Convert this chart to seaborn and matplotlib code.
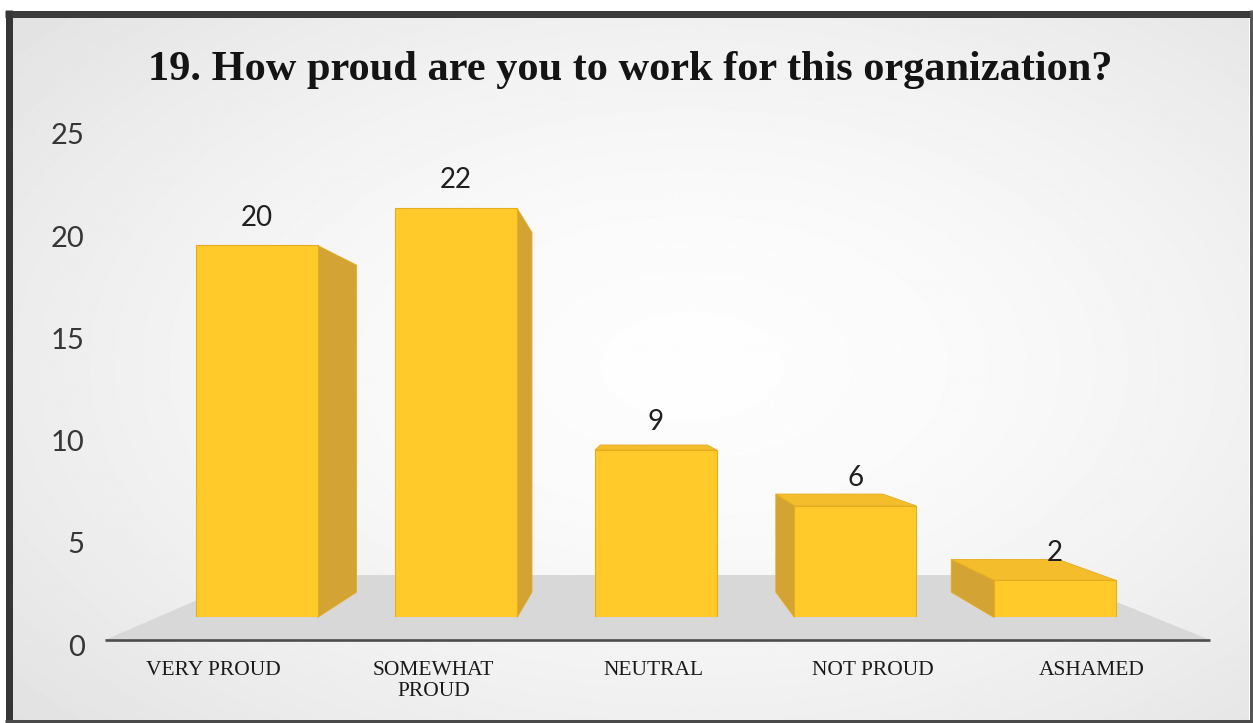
import numpy as np
import matplotlib
matplotlib.use("Agg")
import matplotlib.pyplot as plt
import seaborn as sns
from matplotlib.patches import Polygon

# ---- data -------------------------------------------------------------
categories = ["VERY PROUD", "SOMEWHAT\nPROUD", "NEUTRAL", "NOT PROUD", "ASHAMED"]
counts = [20, 22, 9, 6, 2]
value_ticks = [0, 5, 10, 15, 20, 25]
title = "19. How proud are you to work for this organization?"

# ---- canvas & perspective constants (pixel space, y pointing down) -----
W, H = 1253, 723
VANISH = np.array([640.0, 408.0])      # vanishing point of the 3-D view
FLOOR_L, FLOOR_R, FLOOR_Y = 105.0, 1210.0, 640.0
K_BAR = 0.903      # depth of the bar front faces
K_DEPTH = 0.879    # bar back face relative to its front face
K_FLOOR = 0.72     # back edge of the floor
UNIT = 20.6        # pixels per count on the front plane

FRONT = "#FFCA2A"
SIDE = "#D3A334"
TOP = "#F3BD2C"
EDGE = "#E6AC1F"

sns.set_theme(style="white")
plt.rcParams["font.family"] = ["Lato", "DejaVu Sans"]

fig = plt.figure(figsize=(W / 100, H / 100), dpi=100)
fig.patch.set_facecolor("white")


def fig_box(left, top, right, bottom):
    """Figure-fraction rectangle from pixel edges (y down)."""
    return [left / W, 1 - bottom / H, (right - left) / W, (bottom - top) / H]


def toward(p, k):
    p = np.asarray(p, dtype=float)
    return VANISH + k * (p - VANISH)


# ---- background panel with soft light gradient and dark frame ----------
bg = fig.add_axes([0, 0, 1, 1])
bg.set_xlim(0, W)
bg.set_ylim(H, 0)
bg.axis("off")
yy, xx = np.mgrid[0:H, 0:W]
r = np.sqrt(((xx - 690) / 720) ** 2 + ((yy - 360) / 430) ** 2)
shade = np.clip(0.995 - 0.075 * r ** 1.6, 0.88, 0.995)
bg.imshow(shade, cmap="gray", vmin=0, vmax=1, extent=(9, 1249, 720, 14),
          aspect="auto", interpolation="bilinear", zorder=0)
bg.plot([5, 1252], [13.5, 13.5], color="#3b3b3b", lw=7 * 0.72, solid_capstyle="butt", zorder=5)
bg.plot([8.5, 8.5], [10, 723], color="#363636", lw=7 * 0.72, solid_capstyle="butt", zorder=5)
bg.plot([1250.5, 1250.5], [10, 723], color="#555555", lw=3 * 0.72, solid_capstyle="butt", zorder=5)
bg.plot([5, 1252], [720.5, 720.5], color="#4a4a4a", lw=3 * 0.72, solid_capstyle="butt", zorder=5)

# floor of the 3-D plot
fl, fr = (FLOOR_L, FLOOR_Y), (FLOOR_R, FLOOR_Y)
floor = Polygon([fl, fr, toward(fr, K_FLOOR), toward(fl, K_FLOOR)],
                closed=True, facecolor="#D8D8D8", edgecolor="none", zorder=1)
bg.add_patch(floor)
bg.plot([FLOOR_L, FLOOR_R], [FLOOR_Y, FLOOR_Y], color="#4d4d4d", lw=1.9,
        solid_capstyle="butt", zorder=3)

bg.text(630, 70, title, ha="center", va="center", fontsize=30.5, fontweight="bold",
        family=["Liberation Serif", "DejaVu Serif"], color="#141414", zorder=6)

# ---- value axis on the front plane ---------------------------------------
ax_val = fig.add_axes(fig_box(104, 645 - 25 * 20.44, 1202, 645))
ax_val.set_facecolor("none")
ax_val.set_xlim(-0.5, len(categories) - 0.5)
ax_val.set_ylim(0, 25)
ax_val.set_yticks(value_ticks)
ax_val.set_yticklabels([str(t) for t in value_ticks], fontsize=21, color="#363636")
ax_val.set_xticks(range(len(categories)))
ax_val.set_xticklabels(categories, fontsize=15.5, color="#1a1a1a",
                       family=["Liberation Serif", "DejaVu Serif"], linespacing=1.12)
ax_val.tick_params(axis="y", length=0, pad=14)
ax_val.tick_params(axis="x", length=0, pad=11.5)
for s in ax_val.spines.values():
    s.set_visible(False)

# ---- bars on their own (receding) plane ----------------------------------
bar_left = VANISH[0] + K_BAR * (FLOOR_L - VANISH[0])
bar_right = VANISH[0] + K_BAR * (FLOOR_R - VANISH[0])
bar_base = VANISH[1] + K_BAR * (FLOOR_Y - VANISH[1])
bar_unit = UNIT * K_BAR
ax_bar = fig.add_axes(fig_box(bar_left, bar_base - 25 * bar_unit, bar_right, bar_base))
ax_bar.set_facecolor("none")
sns.barplot(x=categories, y=counts, ax=ax_bar, color=FRONT, saturation=1,
            width=0.61, edgecolor=EDGE, linewidth=0.8, zorder=3)
ax_bar.set_xlim(-0.5, len(categories) - 0.5)
ax_bar.set_ylim(0, 25)
ax_bar.axis("off")

# side and top faces from each drawn bar, projected toward the vanishing point
to_px = ax_bar.transData + bg.transData.inverted()
for patch, value in zip(ax_bar.patches, counts):
    x0, w, h = patch.get_x(), patch.get_width(), patch.get_height()
    bl, br, tr, tl = to_px.transform([(x0, 0), (x0 + w, 0), (x0 + w, h), (x0, h)])
    BL, BR, TR, TL = (toward(p, K_DEPTH) for p in (bl, br, tr, tl))
    faces = []
    if br[0] < VANISH[0]:
        faces.append(([br, BR, TR, tr], SIDE))
    if bl[0] > VANISH[0]:
        faces.append(([bl, BL, TL, tl], SIDE))
    if tl[1] > VANISH[1]:
        faces.append(([tl, tr, TR, TL], TOP))
    for pts, col in faces:
        bg.add_patch(Polygon(pts, closed=True, facecolor=col, edgecolor=EDGE,
                             lw=0.6, zorder=2))
    ax_bar.annotate(str(value), (patch.get_x() + w / 2, h), xytext=(0, 20),
                    textcoords="offset points", ha="center", va="center",
                    fontsize=20, color="#202020", annotation_clip=False)

fig.savefig("out.png", dpi=100, facecolor=fig.get_facecolor())
